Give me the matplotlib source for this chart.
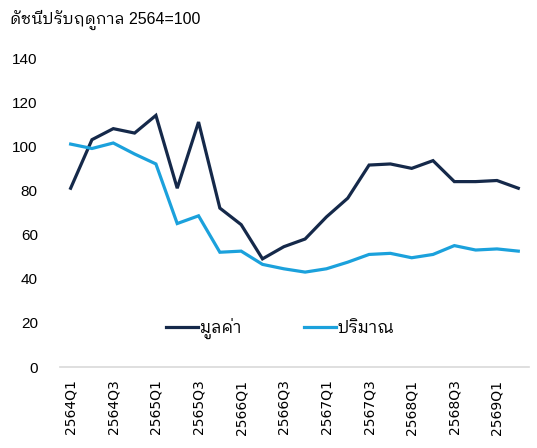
import matplotlib
matplotlib.use("Agg")
import matplotlib.pyplot as plt
import numpy as np

plt.rcParams["font.family"] = ["Liberation Sans", "IBM Plex Sans Thai Looped"]

# Quarters 2564Q1 .. 2569Q2
quarters = [f"{y}Q{q}" for y in range(2564, 2570) for q in range(1, 5)][:22]

# seasonally adjusted index, 2564 = 100
value_idx = [81, 103, 108, 106, 114, 81, 111, 72, 64.5, 49, 54.5, 58,
             68, 76.5, 91.5, 92, 90, 93.5, 84, 84, 84.5, 81]
volume_idx = [101, 99, 101.5, 96.5, 92, 65, 68.5, 52, 52.5, 46.5, 44.5, 43,
              44.5, 47.5, 51, 51.5, 49.5, 51, 55, 53, 53.5, 52.5]

series_names = ["มูลค่า", "ปริมาณ"]
title = "ดัชนีปรับฤดูกาล 2564=100"

navy = "#15294a"
blue = "#1ba1dc"

fig = plt.figure(figsize=(5.37, 4.48), dpi=100)
ax = fig.add_axes([0.1117, 0.1808, 0.8733, 0.6897])

x = np.arange(len(quarters))
ax.plot(x, value_idx, color=navy, lw=2.3, label=series_names[0], solid_joinstyle="miter")
ax.plot(x, volume_idx, color=blue, lw=2.3, label=series_names[1], solid_joinstyle="miter")

ax.set_xlim(-0.5, len(quarters) - 0.5)
ax.set_ylim(0, 140)
ax.set_yticks(range(0, 141, 20))
ax.set_xticks(x[::2])
ax.set_xticklabels(quarters[::2], rotation=90, fontsize=10, family="DejaVu Sans")
ax.tick_params(axis="y", length=0, pad=16, labelsize=11)
ax.tick_params(axis="x", length=0, pad=9)

for s in ["top", "right", "left"]:
    ax.spines[s].set_visible(False)
ax.spines["bottom"].set_color("#d9d9d9")
ax.spines["bottom"].set_linewidth(1.2)

fig.text(10 / 537, 1 - 20 / 448, title, fontsize=11.5, va="center", ha="left")

ax.legend(loc="center", bbox_to_anchor=(0.47, 0.125), ncol=2, frameon=False,
          fontsize=12, handlelength=1.9, handletextpad=0.1, columnspacing=3.8)

fig.savefig("out.png", dpi=100)
